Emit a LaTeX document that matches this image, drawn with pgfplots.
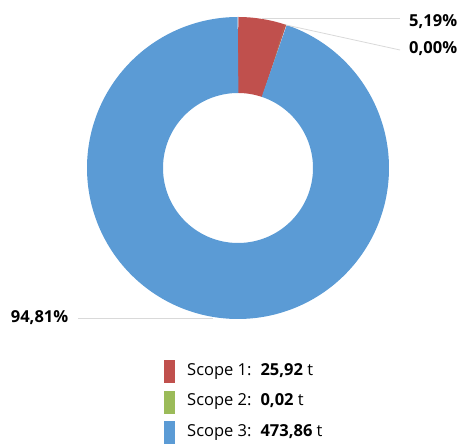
\documentclass[border=0pt]{standalone}
\usepackage{pgfplots}
\usepackage{pgfplotstable}
\usepackage{fontspec}
\setmainfont{Open Sans}
\pgfplotsset{compat=1.18}
\definecolor{cS1}{HTML}{C0504D}
\definecolor{cS2}{HTML}{9BBB59}
\definecolor{cS3}{HTML}{5B9BD5}
\definecolor{lead}{HTML}{D9D9D9}
\pgfplotstableread{
scope value
1 25.92
2 0.02
3 473.86
}\datatable
\pgfplotstablegetelem{0}{value}\of\datatable \let\vA\pgfplotsretval
\pgfplotstablegetelem{1}{value}\of\datatable \let\vB\pgfplotsretval
\pgfplotstablegetelem{2}{value}\of\datatable \let\vC\pgfplotsretval
\pgfmathsetmacro\tot{\vA+\vB+\vC}
\pgfmathsetmacro\aA{90-360*(\vA/\tot)}
\pgfmathsetmacro\aB{\aA-360*(\vB/\tot)}
\pgfmathsetmacro\aC{\aB-360*(\vC/\tot)}
\def\cx{238}\def\cy{276}\def\rmid{113}
\def\fnt{\fontsize{16.5}{19}\selectfont}
\begin{document}
\begin{tikzpicture}
\begin{axis}[x=1pt,y=1pt,xmin=0,xmax=460,ymin=0,ymax=444,hide axis,clip=false,
  font=\fnt,
  legend style={at={(axis cs:164,84)},anchor=north west,draw=none,fill=none,inner sep=0pt,
    row sep=7.5pt,font=\fnt,
    nodes={inner sep=0pt,text depth=0pt}},
  legend cell align=left,
  legend image code/.code={\path[fill,draw=none,line width=0pt] (0pt,-14pt) rectangle (11pt,9pt);},
  ]
\addplot[cS1,line width=76pt,domain=90:\aA,samples=30] ({\cx+\rmid*cos(x)},{\cy+\rmid*sin(x)});
\addlegendentry{\hspace{12pt}Scope 1:\hspace{9pt}\textbf{25,92} t}
\addplot[cS2,line width=76pt,domain=\aA:\aB,samples=2] ({\cx+\rmid*cos(x)},{\cy+\rmid*sin(x)});
\addlegendentry{\hspace{12pt}Scope 2:\hspace{9pt}\textbf{0,02} t}
\addplot[cS3,line width=76pt,domain=\aB:\aC,samples=300] ({\cx+\rmid*cos(x)},{\cy+\rmid*sin(x)});
\addlegendentry{\hspace{12pt}Scope 3:\hspace{9pt}\textbf{473,86} t}
\addplot[lead,line width=0.8pt,forget plot] coordinates {(262,426) (400,426)};
\addplot[lead,line width=0.8pt,forget plot] coordinates {(286,419) (400,394)};
\addplot[lead,line width=0.8pt,forget plot] coordinates {(78,126) (213,126)};
\node[anchor=base west,font=\fnt\bfseries,inner sep=0pt] at (axis cs:409,417) {5,19\%};
\node[anchor=base west,font=\fnt\bfseries,inner sep=0pt] at (axis cs:409,390.5) {0,00\%};
\node[anchor=base west,font=\fnt\bfseries,inner sep=0pt] at (axis cs:10.7,121.3) {94,81\%};
\end{axis}
\pgfresetboundingbox
\path (0,0) rectangle (460pt,444pt);
\end{tikzpicture}
\end{document}
